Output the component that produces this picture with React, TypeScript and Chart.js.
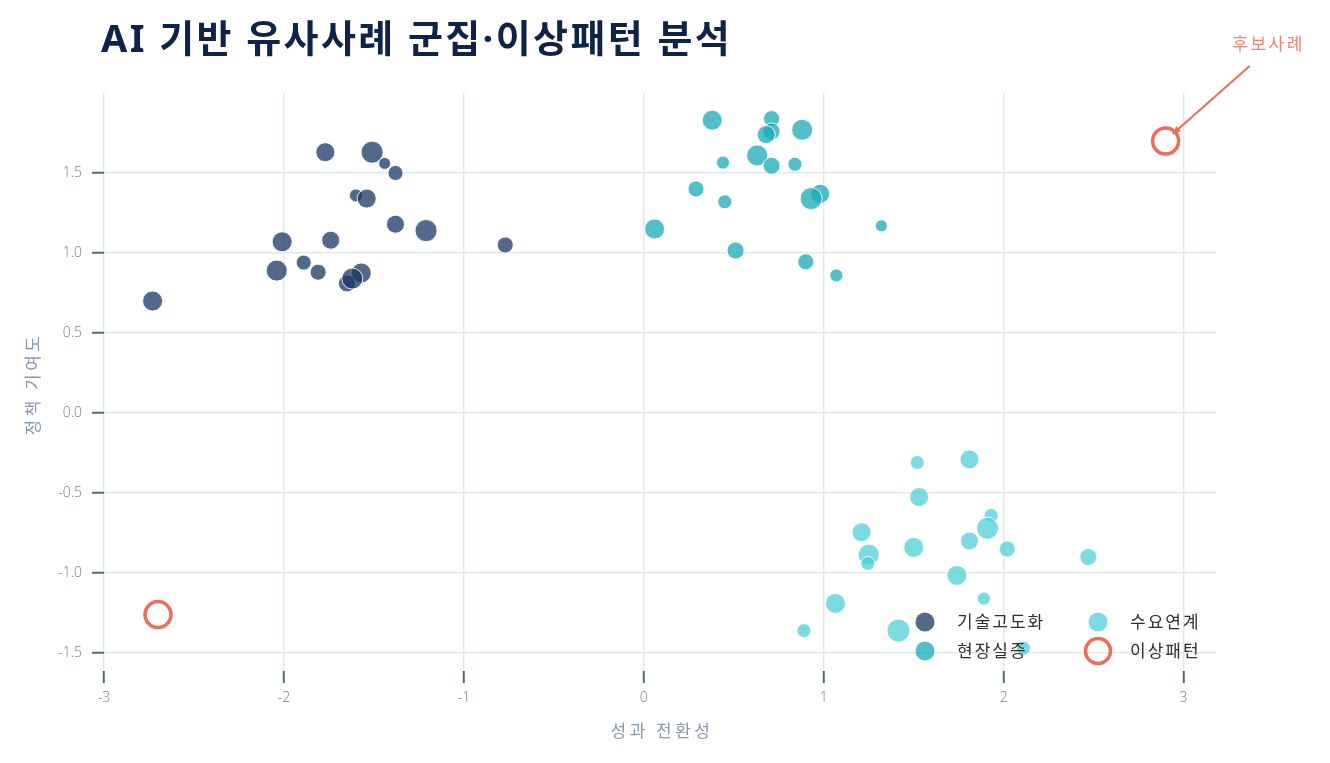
import React, { useEffect, useRef } from 'react';
import { Chart, registerables } from 'chart.js';

Chart.register(...registerables);

const TITLE = 'AI 기반 유사사례 군집·이상패턴 분석';
const X_TITLE = '성과 전환성';
const Y_TITLE = '정책 기여도';
const SERIES_NAMES = ['기술고도화', '현장실증', '수요연계', '이상패턴'];
const X_TICKS = [-3, -2, -1, 0, 1, 2, 3];
const Y_TICKS = [-1.5, -1, -0.5, 0, 0.5, 1, 1.5];

// 기술고도화
const techX = [-2.73, -1.77, -1.51, -1.44, -1.38, -1.6, -1.54, -1.38, -1.21, -0.77, -2.01, -1.74, -2.04, -1.89, -1.81, -1.57, -1.65, -1.62];
const techY = [0.70, 1.63, 1.63, 1.56, 1.50, 1.36, 1.34, 1.18, 1.14, 1.05, 1.07, 1.08, 0.89, 0.94, 0.88, 0.875, 0.81, 0.84];
const techSize = [10, 9.5, 11, 6, 7.5, 6.5, 9.5, 9, 11, 8, 10, 9, 10.5, 7.5, 8, 10, 8.5, 10.5];

// 현장실증
const fieldX = [0.38, 0.71, 0.71, 0.68, 0.88, 0.63, 0.71, 0.44, 0.84, 0.29, 0.45, 0.98, 0.93, 0.06, 1.32, 0.51, 0.90, 1.07];
const fieldY = [1.83, 1.84, 1.76, 1.74, 1.77, 1.61, 1.545, 1.565, 1.555, 1.40, 1.32, 1.37, 1.34, 1.15, 1.17, 1.015, 0.945, 0.86];
const fieldSize = [10, 8, 8.5, 9, 10.5, 10.5, 8.5, 6.5, 7, 8, 7, 9.5, 11, 10, 6, 8.5, 8, 6.5];

// 수요연계
const demandX = [1.52, 1.81, 1.53, 1.93, 1.91, 1.21, 1.81, 2.02, 1.50, 1.25, 1.245, 2.47, 1.74, 1.89, 1.065, 1.415, 0.89, 2.11];
const demandY = [-0.31, -0.29, -0.525, -0.64, -0.72, -0.745, -0.80, -0.85, -0.84, -0.885, -0.94, -0.90, -1.015, -1.16, -1.19, -1.36, -1.36, -1.47];
const demandSize = [7, 9.5, 9.5, 7, 11, 9.5, 9, 8, 10, 10.5, 7, 8.5, 10, 6.5, 10, 11.5, 7, 7];

// 이상패턴
const anomalyX = [2.9, -2.7];
const anomalyY = [1.7, -1.26];
const ANNOTATION_TEXT = '후보사례';
const ANNOTATION_INDEX = 0;

const COLORS = {
  tech: 'rgba(24, 55, 102, 0.75)',
  field: 'rgba(28, 170, 182, 0.76)',
  demand: 'rgba(78, 207, 214, 0.74)',
  anomaly: '#ef6b5a',
  annotationText: '#f28474',
  grid: '#dfe9ec',
  tick: '#50698a',
  tickLabel: '#6f819b',
  axisTitle: '#8899af',
  title: '#0e2347',
  legendText: '#2e2e2e',
};

const KR = '"Noto Sans CJK KR", "Noto Sans", sans-serif';
const TITLE_FONT = '"Noto Sans", "Noto Sans CJK KR", sans-serif';
const TICK_FONT = '"Open Sans", "Noto Sans", sans-serif';

const toPoints = (xs: number[], ys: number[], rs?: number[]) =>
  xs.map((x, i) => ({ x, y: ys[i], r: rs ? rs[i] : 13 }));

const setSpacing = (ctx: any, v: string) => {
  if ('letterSpacing' in ctx) ctx.letterSpacing = v;
};

const overlayPlugin = {
  id: 'overlay',
  afterDatasetsDraw(chart: any) {
    const { ctx, chartArea, scales } = chart;
    ctx.save();

    // Legend (inside plot, bottom-right, two columns, column-major)
    const colX = [chartArea.right - 291, chartArea.right - 118];
    const rowY = [chartArea.bottom - 49, chartArea.bottom - 20];
    const fills = [COLORS.tech, COLORS.field, COLORS.demand];
    SERIES_NAMES.forEach((name, i) => {
      const cx = colX[Math.floor(i / 2)];
      const cy = rowY[i % 2];
      ctx.beginPath();
      if (i < 3) {
        ctx.arc(cx, cy, 9.5, 0, Math.PI * 2);
        ctx.fillStyle = fills[i];
        ctx.fill();
      } else {
        ctx.arc(cx, cy, 12.5, 0, Math.PI * 2);
        ctx.lineWidth = 3.5;
        ctx.strokeStyle = COLORS.anomaly;
        ctx.stroke();
      }
      ctx.font = `17px ${KR}`;
      setSpacing(ctx, '2px');
      ctx.fillStyle = COLORS.legendText;
      ctx.textAlign = 'left';
      ctx.textBaseline = 'middle';
      ctx.fillText(name, cx + 32, cy);
      setSpacing(ctx, '0px');
    });

    // Annotation with arrow
    const px = scales.x.getPixelForValue(anomalyX[ANNOTATION_INDEX]);
    const py = scales.y.getPixelForValue(anomalyY[ANNOTATION_INDEX]);
    const sx = px + 84, sy = py - 75;
    const ex = px + 7, ey = py - 7;
    ctx.strokeStyle = COLORS.anomaly;
    ctx.fillStyle = COLORS.anomaly;
    ctx.lineWidth = 2;
    ctx.beginPath();
    ctx.moveTo(sx, sy);
    ctx.lineTo(ex, ey);
    ctx.stroke();
    const ang = Math.atan2(ey - sy, ex - sx);
    const hl = 8, hw = 3.5;
    ctx.beginPath();
    ctx.moveTo(ex, ey);
    ctx.lineTo(ex - hl * Math.cos(ang) + hw * Math.sin(ang), ey - hl * Math.sin(ang) - hw * Math.cos(ang));
    ctx.lineTo(ex - hl * Math.cos(ang) - hw * Math.sin(ang), ey - hl * Math.sin(ang) + hw * Math.cos(ang));
    ctx.closePath();
    ctx.fill();
    ctx.font = `17px ${KR}`;
    setSpacing(ctx, '2.5px');
    ctx.fillStyle = COLORS.annotationText;
    ctx.textAlign = 'center';
    ctx.textBaseline = 'middle';
    ctx.fillText(ANNOTATION_TEXT, px + 103, py - 97);
    setSpacing(ctx, '0px');

    ctx.restore();
  },
  afterDraw(chart: any) {
    const { ctx, chartArea } = chart;
    ctx.save();
    // Main title
    ctx.font = `bold 38px ${TITLE_FONT}`;
    setSpacing(ctx, '2.4px');
    ctx.fillStyle = COLORS.title;
    ctx.textAlign = 'left';
    ctx.textBaseline = 'middle';
    ctx.fillText(TITLE, 101, 41);

    // Axis titles
    ctx.font = `17px ${KR}`;
    setSpacing(ctx, '3.5px');
    ctx.fillStyle = COLORS.axisTitle;
    ctx.textAlign = 'center';
    ctx.textBaseline = 'middle';
    ctx.fillText(X_TITLE, (chartArea.left + chartArea.right) / 2 + 2, 731);
    ctx.translate(33, (chartArea.top + chartArea.bottom) / 2 + 2);
    ctx.rotate(-Math.PI / 2);
    ctx.fillText(Y_TITLE, 0, 0);
    setSpacing(ctx, '0px');
    ctx.restore();
  },
};

export default function App() {
  const ref = useRef<HTMLCanvasElement | null>(null);

  useEffect(() => {
    document.body.style.margin = '0';
    if (!ref.current) return;
    const chart = new Chart(ref.current, {
      type: 'bubble',
      data: {
        datasets: [
          {
            label: SERIES_NAMES[0],
            data: toPoints(techX, techY, techSize),
            backgroundColor: COLORS.tech,
            borderColor: 'rgba(255,255,255,0.85)',
            borderWidth: 1,
          },
          {
            label: SERIES_NAMES[1],
            data: toPoints(fieldX, fieldY, fieldSize),
            backgroundColor: COLORS.field,
            borderColor: 'rgba(255,255,255,0.85)',
            borderWidth: 1,
          },
          {
            label: SERIES_NAMES[2],
            data: toPoints(demandX, demandY, demandSize),
            backgroundColor: COLORS.demand,
            borderColor: 'rgba(255,255,255,0.85)',
            borderWidth: 1,
          },
          {
            label: SERIES_NAMES[3],
            data: toPoints(anomalyX, anomalyY),
            backgroundColor: 'rgba(0,0,0,0)',
            borderColor: COLORS.anomaly,
            borderWidth: 3.5,
          },
        ],
      } as any,
      options: {
        animation: false,
        responsive: false,
        events: [],
        layout: { padding: { top: 93, right: 114, bottom: 0, left: 0 } },
        plugins: {
          legend: { display: false },
          tooltip: { enabled: false },
          title: { display: false },
        },
        scales: {
          x: {
            type: 'linear',
            min: -3,
            max: 3.18,
            afterFit: (s: any) => { s.height = 92; },
            afterBuildTicks: (s: any) => { s.ticks = X_TICKS.map((v) => ({ value: v })); },
            ticks: {
              padding: 7,
              color: COLORS.tickLabel,
              font: { family: TICK_FONT, size: 14, weight: '300' as any },
              callback: (v: any) => String(v),
            },
            grid: {
              color: COLORS.grid,
              lineWidth: 1.5,
              tickColor: COLORS.tick,
              tickLength: 12,
              tickWidth: 2,
            },
            border: { display: false },
            title: { display: false },
          },
          y: {
            type: 'linear',
            min: -1.6125,
            max: 2.0,
            afterFit: (s: any) => { s.width = 104; },
            afterBuildTicks: (s: any) => { s.ticks = Y_TICKS.map((v) => ({ value: v })); },
            ticks: {
              padding: 10,
              color: COLORS.tickLabel,
              font: { family: TICK_FONT, size: 14, weight: '300' as any },
              callback: (v: any) => Number(v).toFixed(1),
            },
            grid: {
              color: COLORS.grid,
              lineWidth: 1.5,
              tickColor: COLORS.tick,
              tickLength: 12,
              tickWidth: 2,
            },
            border: { display: false },
            title: { display: false },
          },
        },
      } as any,
      plugins: [overlayPlugin],
    });
    return () => chart.destroy();
  }, []);

  return (
    <div style={{ width: 1330, height: 763, position: 'relative' }}>
      <canvas ref={ref} width={1330} height={763} style={{ display: 'block' }} />
    </div>
  );
}
